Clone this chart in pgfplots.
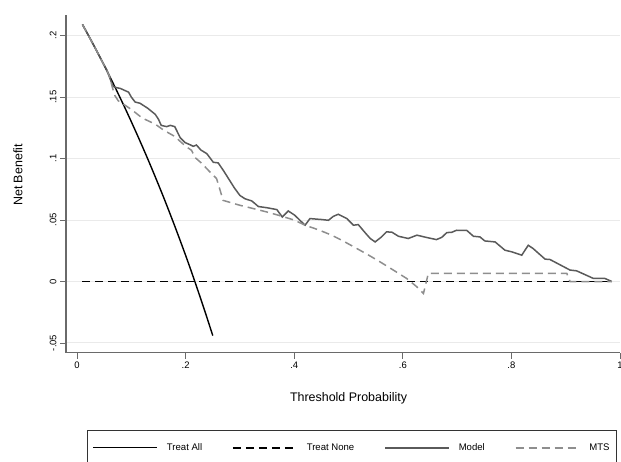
\documentclass[border=0pt]{standalone}
\usepackage{fontspec}
\setmainfont{Liberation Sans}
\usepackage{pgfplots}
\pgfplotsset{compat=1.18}

\definecolor{modelgray}{HTML}{5A5A5A}
\definecolor{mtsgray}{HTML}{8E8E8E}
\definecolor{axisgray}{HTML}{6A6A6A}
\definecolor{gridgray}{HTML}{EAEAEA}

\begin{document}
\begin{tikzpicture}[x=1bp,y=1bp]
\begin{axis}[
    at={(66bp,109.3bp)}, anchor=south west,
    scale only axis,
    width=554bp, height=337.7bp,
    xmin=-0.0203, xmax=1.0,
    ymin=-0.0579, ymax=0.2168,
    axis x line*=bottom, axis y line*=left,
    axis line style={axisgray, line width=1.2bp},
    tick align=outside,
    major tick length=6bp,
    tick style={axisgray, line width=0.9bp},
    xtick={0,0.2,0.4,0.6,0.8,1},
    xticklabels={0,.2,.4,.6,.8,1},
    ytick={-0.05,0,0.05,0.1,0.15,0.2},
    yticklabels={-.05,0,.05,.1,.15,.2},
    ticklabel style={font=\fontsize{9.5}{10}\selectfont},
    yticklabel style={rotate=90, anchor=south},
    ymajorgrids=true,
    grid style={gridgray, line width=1bp},
    xlabel={Threshold Probability},
    ylabel={Net Benefit},
    label style={font=\fontsize{12.5}{14}\selectfont},
    xlabel style={at={(rel axis cs:0.51,-0.134)}, anchor=center},
    ylabel style={at={(rel axis cs:-0.0866,0.526)}, anchor=center},
    legend columns=4,
    legend image code/.code={\draw[#1] (0bp,0bp) -- (64bp,0bp);},
    legend style={
        at={(rel axis cs:0.0379,-0.229)}, anchor=north west,
        draw=black!80, line width=1.1bp,
        font=\fontsize{9.6}{11}\selectfont,
        inner xsep=5bp, inner ysep=11bp,
        /tikz/every odd column/.append style={column sep=7bp},
        /tikz/every even column/.append style={column sep=28bp},
        cells={anchor=west},
    },
]

% Treat All
\addplot[black, line width=1.4bp] coordinates {
    (0.01,0.2091) (0.02,0.2010) (0.03,0.1928) (0.04,0.1844) (0.05,0.1758)
    (0.06,0.1670) (0.07,0.1581) (0.08,0.1489) (0.09,0.1396) (0.10,0.1300)
    (0.11,0.1202) (0.12,0.1102) (0.13,0.1000) (0.14,0.0895) (0.15,0.0788)
    (0.16,0.0679) (0.17,0.0566) (0.18,0.0451) (0.19,0.0333) (0.20,0.0213)
    (0.21,0.0089) (0.22,-0.0039) (0.23,-0.0169) (0.24,-0.0303) (0.25,-0.0440)
};
\addlegendentry{Treat All}

% Treat None
\addplot[black, line width=1.6bp, dash pattern=on 8bp off 5bp] coordinates {
    (0.01,0) (0.99,0)
};
\addlegendentry{Treat None}

% Model
\addplot[modelgray, line width=1.5bp] coordinates {
    (0.01,0.2091) (0.02,0.2010) (0.03,0.1928) (0.04,0.1844) (0.05,0.1760)
    (0.055,0.1720) (0.06,0.1660) (0.066,0.1590) (0.07,0.1580) (0.08,0.1570)
    (0.09,0.1550) (0.095,0.1540) (0.10,0.1500) (0.107,0.1460) (0.116,0.1450)
    (0.13,0.1410) (0.144,0.1360) (0.15,0.1320) (0.155,0.1270) (0.165,0.1260)
    (0.172,0.1270) (0.180,0.1260) (0.190,0.1170) (0.199,0.1130) (0.207,0.1115)
    (0.214,0.1100) (0.220,0.1110) (0.228,0.1070) (0.239,0.1040) (0.251,0.0970)
    (0.260,0.0965) (0.270,0.0900) (0.280,0.0830) (0.290,0.0760) (0.300,0.0700)
    (0.309,0.0674) (0.322,0.0655) (0.334,0.0610) (0.350,0.0600) (0.368,0.0585)
    (0.378,0.0525) (0.389,0.0574) (0.401,0.0539) (0.410,0.0500) (0.420,0.0458)
    (0.429,0.0512) (0.451,0.0504) (0.463,0.0498) (0.472,0.0530) (0.481,0.0547)
    (0.497,0.0512) (0.509,0.0458) (0.518,0.0463) (0.530,0.0400) (0.540,0.0350)
    (0.549,0.0322) (0.560,0.0360) (0.570,0.0404) (0.580,0.0401) (0.592,0.0368)
    (0.610,0.0350) (0.626,0.0377) (0.644,0.0358) (0.662,0.0341) (0.672,0.0360)
    (0.681,0.0398) (0.690,0.0400) (0.699,0.0417) (0.718,0.0415) (0.730,0.0368)
    (0.742,0.0363) (0.751,0.0330) (0.770,0.0322) (0.788,0.0255) (0.801,0.0241)
    (0.819,0.0214) (0.831,0.0295) (0.840,0.0268) (0.862,0.0182) (0.871,0.0179)
    (0.908,0.0093) (0.920,0.0087) (0.951,0.0025) (0.972,0.0025) (0.985,0.0000)
};
\addlegendentry{Model}

% MTS
\addplot[mtsgray, line width=1.5bp, dash pattern=on 8bp off 5bp] coordinates {
    (0.01,0.2091) (0.02,0.2010) (0.03,0.1928) (0.04,0.1844) (0.05,0.1758)
    (0.06,0.1670) (0.065,0.1580) (0.070,0.1510) (0.076,0.1470) (0.100,0.1400)
    (0.120,0.1330) (0.144,0.1280) (0.160,0.1230) (0.180,0.1180) (0.200,0.1100)
    (0.211,0.1067) (0.217,0.1010) (0.230,0.0960) (0.245,0.0890) (0.257,0.0837)
    (0.263,0.0750) (0.269,0.0660) (0.300,0.0620) (0.325,0.0593) (0.350,0.0565)
    (0.371,0.0539) (0.400,0.0500) (0.420,0.0458) (0.445,0.0420) (0.469,0.0377)
    (0.490,0.0330) (0.515,0.0269) (0.535,0.0220) (0.558,0.0160) (0.580,0.0100)
    (0.607,0.0025) (0.625,-0.0040) (0.638,-0.0097) (0.647,0.0066) (0.700,0.0066)
    (0.800,0.0066) (0.902,0.0066) (0.908,0.0000) (0.985,0.0000)
};
\addlegendentry{MTS}

\end{axis}
\pgfresetboundingbox
\path[use as bounding box] (0,0) rectangle (621,462);
\end{tikzpicture}
\end{document}
